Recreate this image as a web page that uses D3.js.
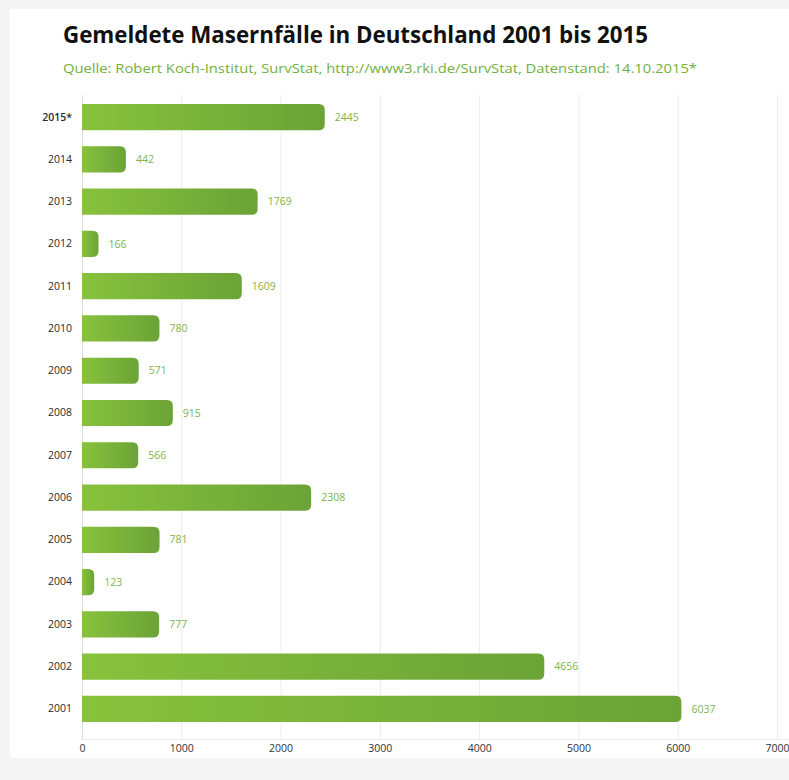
<!DOCTYPE html>
<html><head><meta charset="utf-8">
<script src="https://cdn.jsdelivr.net/npm/d3@7"></script>
<style>
html,body{margin:0;padding:0;background:#f5f5f5;}
svg{display:block;}
</style></head>
<body>
<svg id="chart" width="789" height="780"></svg>
<script>
const years = ["2015*","2014","2013","2012","2011","2010","2009","2008","2007","2006","2005","2004","2003","2002","2001"];
const cases = [2445,442,1769,166,1609,780,571,915,566,2308,781,123,777,4656,6037];
const xTicks = [0,1000,2000,3000,4000,5000,6000,7000];
const titleText = "Gemeldete Masernfälle in Deutschland 2001 bis 2015";
const sourceText = "Quelle: Robert Koch-Institut, SurvStat, http://www3.rki.de/SurvStat, Datenstand: 14.10.2015*";

const svg = d3.select("#chart");
const data = years.map((y,i)=>({year:y, value:cases[i]}));

// panel
svg.append("rect").attr("x",10).attr("y",9).attr("width",779).attr("height",749).attr("fill","#fff");

const defs = svg.append("defs");
const grad = defs.append("linearGradient").attr("id","barGrad").attr("x1","0%").attr("x2","100%");
grad.append("stop").attr("offset","0%").attr("stop-color","#88c23c");
grad.append("stop").attr("offset","100%").attr("stop-color","#6ba337");

const x = d3.scaleLinear().domain([0,7000]).range([82,777]);
const y = d3.scaleBand().domain(years).range([96,730]).paddingInner(0.38).paddingOuter(0.19);

// gridlines
svg.append("g").selectAll("line").data(xTicks).join("line")
  .attr("x1",d=>x(d)+0.5).attr("x2",d=>x(d)+0.5)
  .attr("y1",95).attr("y2",739)
  .attr("stroke",d=>d===0?"#dcdcdc":"#ececec").attr("stroke-width",1);
svg.append("line").attr("x1",82).attr("x2",789).attr("y1",739.5).attr("y2",739.5).attr("stroke","#ececec");

// x axis
const xAxis = d3.axisBottom(x).tickValues(xTicks).tickSize(0).tickPadding(0).tickFormat(d3.format("d"));
const gx = svg.append("g").attr("transform","translate(0,745)").call(xAxis);
gx.select(".domain").remove();
gx.selectAll("text").attr("font-family","'Open Sans', sans-serif").attr("font-size",10.5)
  .attr("fill","#333").attr("dy","0.71em");

// bars with rounded right end
const r = 6;
function barPath(d){
  const x0 = x(0), x1 = x(d.value), y0 = y(d.year), h = y.bandwidth();
  const rr = Math.min(r,(x1-x0));
  return `M${x0},${y0}H${x1-rr}Q${x1},${y0} ${x1},${y0+rr}V${y0+h-rr}Q${x1},${y0+h} ${x1-rr},${y0+h}H${x0}Z`;
}
svg.append("g").selectAll("path").data(data).join("path")
  .attr("d",barPath).attr("fill","url(#barGrad)");

// value labels
svg.append("g").selectAll("text").data(data).join("text")
  .attr("x",d=>x(d.value)+10).attr("y",d=>y(d.year)+y.bandwidth()/2)
  .attr("dy","0.35em").attr("font-family","'Open Sans', sans-serif").attr("font-size",10.5)
  .attr("fill","#7cb54a").text(d=>d.value);

// y labels
const yAxis = d3.axisLeft(y).tickSize(0).tickPadding(0);
const gy = svg.append("g").attr("transform","translate(72,0)").call(yAxis);
gy.select(".domain").remove();
gy.selectAll("text").attr("font-family","'Open Sans', sans-serif").attr("font-size",10.5)
  .attr("fill","#2a2a2a").attr("font-weight",d=>d==="2015*"?600:500);

// title
svg.append("text").attr("x",63).attr("y",43).attr("font-family","'Open Sans', sans-serif")
  .attr("font-weight",700).attr("font-size",24).attr("fill","#111").text(titleText)
  .attr("textLength",585).attr("lengthAdjust","spacingAndGlyphs");

svg.append("text").attr("x",63).attr("y",73).attr("font-family","'Open Sans', sans-serif")
  .attr("font-weight",500).attr("font-size",12.5).attr("fill","#72b040").text(sourceText)
  .attr("textLength",634).attr("lengthAdjust","spacingAndGlyphs");
</script>
</body></html>
